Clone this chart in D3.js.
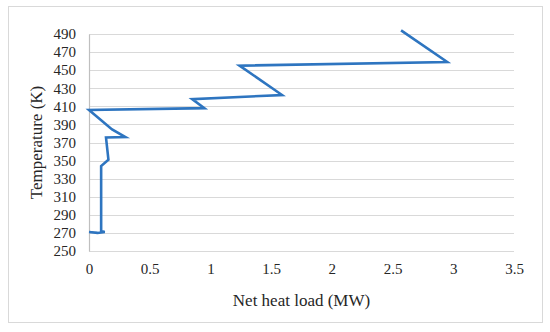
<!DOCTYPE html>
<html>
<head>
<meta charset="utf-8">
<script src="https://cdn.jsdelivr.net/npm/d3@7"></script>
<style>
  body { margin: 0; background: #fff; }
  text { font-family: "Liberation Serif", "Times New Roman", serif; fill: #262626; }
</style>
</head>
<body>
<div class="chart"></div>
<script>
// net heat load (MW) and temperature (K) from top to bottom
var heatLoad = [2.57, 2.95, 1.24, 1.59, 0.85, 0.95, 0.00, 0.19, 0.30, 0.14, 0.16, 0.10, 0.10, 0.13, 0.07, 0.00];
var temperature = [494, 459, 455, 422.5, 418, 408, 406, 384.5, 376, 375.5, 351, 344, 272, 271, 270, 271];

var xTicks = [0, 0.5, 1, 1.5, 2, 2.5, 3, 3.5];
var yTicks = [250, 270, 290, 310, 330, 350, 370, 390, 410, 430, 450, 470, 490];

var svgWidth = 550;
var svgHeight = 332;

var margin = { top: 34, right: 36, bottom: 81, left: 89 };
var width = svgWidth - margin.left - margin.right;
var height = svgHeight - margin.top - margin.bottom;

var svg = d3.select(".chart")
    .append("svg")
    .attr("width", svgWidth)
    .attr("height", svgHeight);

// outer frame
svg.append("rect")
    .attr("x", 8.5)
    .attr("y", 6.5)
    .attr("width", 534)
    .attr("height", 316)
    .attr("fill", "#fff")
    .attr("stroke", "#d9d9d9");

var chartGroup = svg.append("g")
    .attr("transform", `translate(${margin.left}, ${margin.top})`);

var xScale = d3.scaleLinear().domain([0, 3.5]).range([0, width]);
var yScale = d3.scaleLinear().domain([250, 490]).range([height, 0]);

// gridlines
chartGroup.append("g")
    .selectAll("line")
    .data(yTicks)
    .enter()
    .append("line")
    .attr("x1", 0)
    .attr("x2", width)
    .attr("y1", d => Math.round(yScale(d)) + 0.5)
    .attr("y2", d => Math.round(yScale(d)) + 0.5)
    .attr("stroke", "#d9d9d9")
    .attr("stroke-width", 1.2);

// axes
var leftAxis = d3.axisLeft(yScale).tickValues(yTicks).tickSize(0).tickPadding(13);
var botAxis = d3.axisBottom(xScale).tickValues(xTicks).tickSize(0).tickPadding(12)
    .tickFormat(d3.format("~g"));

var yAxisG = chartGroup.append("g").call(leftAxis);
yAxisG.select(".domain").attr("stroke", "#bfbfbf").attr("stroke-width", 1.2);
yAxisG.selectAll("text").style("font-size", "15px").style("font-family", "Liberation Serif");

var xAxisG = chartGroup.append("g")
    .attr("transform", `translate(0, ${height})`)
    .call(botAxis);
xAxisG.select(".domain").remove();
xAxisG.selectAll("text").style("font-size", "15px").style("font-family", "Liberation Serif");

// axis titles
chartGroup.append("text")
    .attr("x", width / 2)
    .attr("y", height + 55)
    .attr("text-anchor", "middle")
    .style("font-size", "17px")
    .text("Net heat load (MW)");

chartGroup.append("text")
    .attr("transform", `translate(-47, ${height / 2}) rotate(-90)`)
    .attr("text-anchor", "middle")
    .style("font-size", "17px")
    .text("Temperature (K)");

// curve
var points = heatLoad.map((v, i) => ({ x: v, t: temperature[i] }));
var line = d3.line()
    .x(d => xScale(d.x))
    .y(d => yScale(d.t));

chartGroup.append("path")
    .datum(points)
    .attr("d", line)
    .attr("fill", "none")
    .attr("stroke", "#2e75c0")
    .attr("stroke-width", 2.6)
    .attr("stroke-linejoin", "miter");
</script>
</body>
</html>
